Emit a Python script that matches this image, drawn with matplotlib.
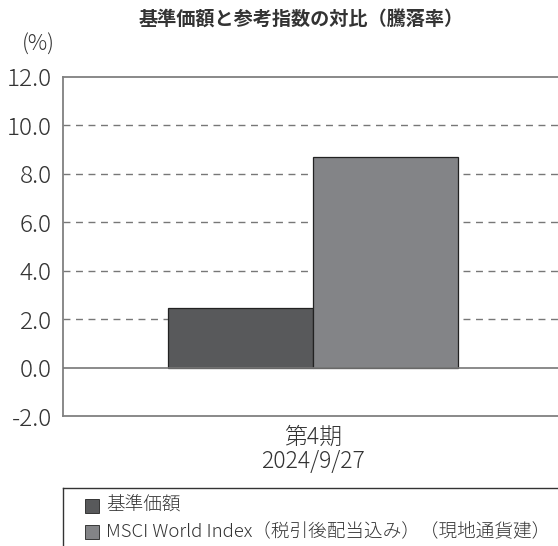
import matplotlib.pyplot as plt
from matplotlib.patches import Rectangle
from matplotlib.lines import Line2D

plt.rcParams['font.family'] = ['Noto Sans CJK JP', 'DejaVu Sans']

# データ
series_names = ['基準価額', 'MSCI World Index（税引後配当込み）（現地通貨建）']
values = [2.44, 8.68]
colors = ['#58595b', '#838487']
period_label = '第4期\n2024/9/27'
yticks = [-2.0, 0.0, 2.0, 4.0, 6.0, 8.0, 10.0, 12.0]

fig = plt.figure(figsize=(5.58, 5.46), dpi=100)
ax = fig.add_axes([63 / 558, 1 - 416 / 546, 1 - 63 / 558, 339 / 546])

bar_w = 0.586
offsets = [-bar_w / 2, bar_w / 2]
for v, c, off in zip(values, colors, offsets):
    ax.bar(off, v, width=bar_w, color=c, edgecolor='#222222', linewidth=0.9, zorder=3)

ax.set_xlim(-1.01, 0.99)
ax.set_ylim(-2, 12)
ax.set_yticks(yticks)
ax.set_yticklabels([f'{t:.1f}' for t in yticks], fontsize=17.5, color='#333333', fontweight='light')
ax.tick_params(axis='y', length=0, pad=8)
ax.set_xticks([0])
ax.set_xticklabels([period_label], fontsize=16.5, color='#333333', linespacing=1.0, fontweight='light')
ax.tick_params(axis='x', length=0, pad=6)

# グリッド
for t in yticks[2:-1]:
    ax.axhline(t, color='#777777', linestyle=(0, (5, 4)), linewidth=1.0, zorder=1)
ax.axhline(0, color='#777777', linewidth=1.2, zorder=4)

for s in ['top', 'left', 'bottom']:
    ax.spines[s].set_color('#808080')
    ax.spines[s].set_linewidth(1.3)
ax.spines['right'].set_visible(False)

fig.text(0.539, 1 - 20 / 546, '基準価額と参考指数の対比（騰落率）', ha='center', va='center',
         fontsize=13.8, fontweight='bold', color='#333333')
fig.text(38 / 558, 1 - 45 / 546, '(%)', ha='center', va='center', fontsize=15.5, color='#333333',
         fontweight='light')

# 凡例
fig.add_artist(Line2D([63 / 558, 1], [1 - 488 / 546, 1 - 488 / 546], color='#333333', linewidth=1.0))
fig.add_artist(Line2D([63 / 558, 63 / 558], [1 - 488 / 546, 0], color='#333333', linewidth=1.0))
rows_y = [1 - 506 / 546, 1 - 532 / 546]
for name, c, y in zip(series_names, colors, rows_y):
    fig.add_artist(Rectangle((85 / 558, y - 7 / 546), 14 / 558, 14 / 546, facecolor=c,
                             edgecolor='#222222', linewidth=0.6))
    fig.text(106 / 558, y, name, ha='left', va='center', fontsize=13.4, color='#333333',
             fontweight='light')

fig.savefig('out.png', dpi=100)
